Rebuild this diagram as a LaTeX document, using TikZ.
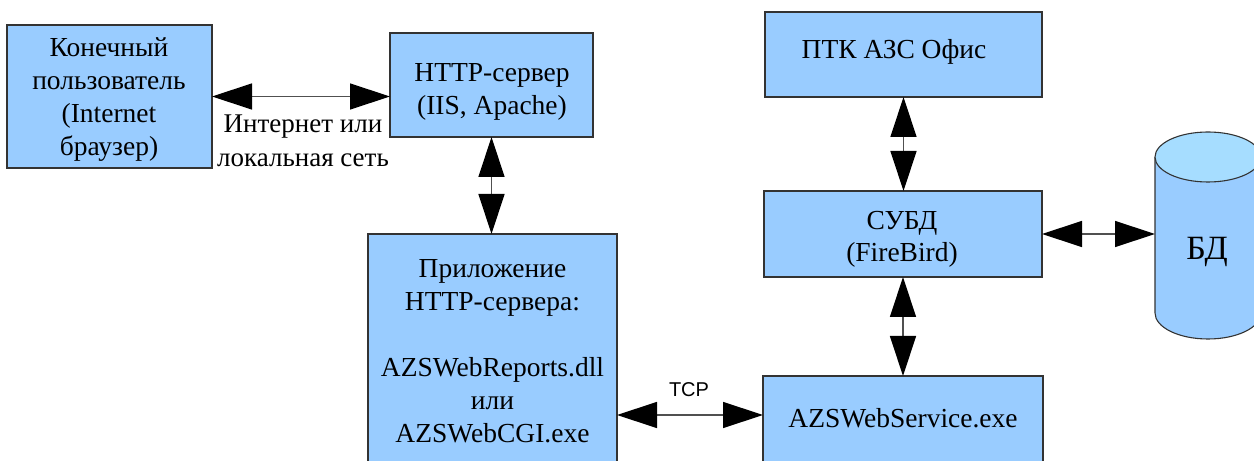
\documentclass[tikz,border=0pt]{standalone}
\usepackage{fontspec}
\setmainfont{Liberation Serif}
\newfontfamily\tcpfont{Liberation Sans}
\usetikzlibrary{arrows.meta}
\definecolor{boxblue}{HTML}{99CCFF}
\definecolor{topblue}{HTML}{A6DDFF}
\definecolor{edgegray}{HTML}{333333}
\definecolor{linegray}{HTML}{505050}
\tikzset{
  box/.style={draw=edgegray, line width=1.1bp, fill=boxblue, inner sep=0pt, outer sep=0pt},
  txt/.style={inner sep=0pt, outer sep=0pt, align=center, font=\fontsize{27.5bp}{33bp}\selectfont},
  link/.style={draw=linegray, line width=1.3bp,
    {Triangle[length=40bp,width=26bp,color=black]}-{Triangle[length=40bp,width=26bp,color=black]}},
}
\begin{document}
\begin{tikzpicture}[x=1bp,y=-1bp]
\useasboundingbox (0,0) rectangle (1254,461);
\clip (0,0) rectangle (1254,461);
% boxes
\node[box, minimum width=205bp, minimum height=143bp] (user) at (109.5,96.5) {};
\node[box, minimum width=203bp, minimum height=104bp] (http) at (491.5,85) {};
\node[box, minimum width=249bp, minimum height=234bp] (app) at (492.5,351) {};
\node[box, minimum width=277bp, minimum height=85bp] (ptk) at (903.5,54.5) {};
\node[box, minimum width=278bp, minimum height=86bp] (subd) at (903,234) {};
\node[box, minimum width=280bp, minimum height=92bp] (svc) at (903,422) {};
% cylinder
\fill[boxblue] (1155,157) -- (1155,313) arc[start angle=180, end angle=0, x radius=53, y radius=26] -- (1261,157) -- cycle;
\draw[edgegray, line width=1.1bp] (1155,157) -- (1155,313) arc[start angle=180, end angle=0, x radius=53, y radius=26] -- (1261,157);
\draw[edgegray, line width=1.1bp, fill=topblue] (1208,157) ellipse[x radius=53, y radius=25];
\coordinate (bdside) at (1155,234);
\node[inner sep=0pt, anchor=base, font=\fontsize{34bp}{40bp}\selectfont] (bdtxt) at (1207,260) {БД};
% texts
\node[txt, anchor=north] (usertxt) at (109,38) {Конечный\\пользователь\\(Internet\\браузер)};
\node[txt, anchor=north] (httptxt) at (492,63) {HTTP-сервер\\(IIS, Apache)};
\node[txt, anchor=north] (apptxt) at (492.5,259) {Приложение\\HTTP-сервера:\\[33bp]AZSWebReports.dll\\или\\AZSWebCGI.exe};
\node[txt, anchor=base] (ptktxt) at (894,59) {ПТК АЗС Офис};
\node[txt, anchor=north, font=\fontsize{27.5bp}{32bp}\selectfont] (subdtxt) at (902,211) {СУБД\\(FireBird)};
\node[txt, anchor=base] (svctxt) at (903,428) {AZSWebService.exe};
\node[txt, anchor=north, font=\fontsize{27bp}{34bp}\selectfont] (nettxt) at (303,115) {Интернет или\\локальная сеть};
\node[inner sep=0pt, anchor=base, font=\tcpfont\fontsize{20bp}{24bp}\selectfont] (tcptxt) at (689,397) {TCP};
% connectors
\coordinate (tcpy) at (0,415);
\draw[link] (user.east) -- (user.east -| http.west);
\draw[link] (http.south) -- (http.south |- app.north);
\draw[link] (ptk.south) -- (ptk.south |- subd.north);
\draw[link] (subd.south) -- (subd.south |- svc.north);
\draw[link] (subd.east) -- (bdside);
\draw[link] (app.east |- tcpy) -- (svc.west |- tcpy);
\end{tikzpicture}
\end{document}
